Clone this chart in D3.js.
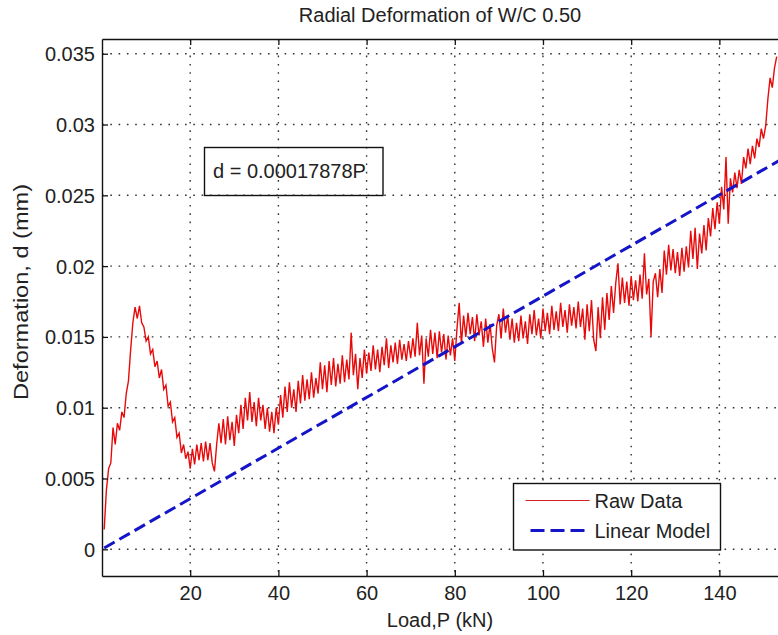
<!DOCTYPE html>
<html>
<head>
<meta charset="utf-8">
<script src="https://cdn.jsdelivr.net/npm/d3@7"></script>
<style>
  html, body { margin: 0; padding: 0; background: #fff; overflow: hidden; }
  svg { display: block; }
  text { font-family: "Liberation Sans", Arial, sans-serif; fill: #222; }
</style>
</head>
<body>
<svg class="chart"></svg>
<script>
// load (kN), sampled along the trace
var loads = [
  0.5,1,1.5,2,2.5,3,3.5,4,4.5,5,5.5,6,6.5,7,7.5,8,8.5,9,9.5,10,
  10.5,11,11.5,12,12.5,13,13.5,14,14.5,15,15.5,16,16.5,17,17.5,18,18.5,19,19.5,20,
  20.5,21,21.5,22,22.5,23,23.5,24,24.5,25,25.5,26,26.5,27,27.5,28,28.5,29,29.5,30,
  30.5,31,31.5,32,32.5,33,33.5,34,34.5,35,35.5,36,36.5,37,37.5,38,38.5,39,39.5,40,
  40.5,41,41.5,42,42.5,43,43.5,44,44.5,45,45.5,46,46.5,47,47.5,48,48.5,49,49.5,50,
  50.5,51,51.5,52,52.5,53,53.5,54,54.5,55,55.5,56,56.5,57,57.5,58,58.5,59,59.5,60,
  60.5,61,61.5,62,62.5,63,63.5,64,64.5,65,65.5,66,66.5,67,67.5,68,68.5,69,69.5,70,
  70.5,71,71.5,72,72.5,73,73.5,74,74.5,75,75.5,76,76.5,77,77.5,78,78.5,79,79.5,80,
  80.5,81,81.5,82,82.5,83,83.5,84,84.5,85,85.5,86,86.5,87,87.5,88,88.5,89,89.5,90,
  90.5,91,91.5,92,92.5,93,93.5,94,94.5,95,95.5,96,96.5,97,97.5,98,98.5,99,99.5,100,
  100.5,101,101.5,102,102.5,103,103.5,104,104.5,105,105.5,106,106.5,107,107.5,108,108.5,109,109.5,110,
  110.5,111,111.5,112,112.5,113,113.5,114,114.5,115,115.5,116,116.5,117,117.5,118,118.5,119,119.5,120,
  120.5,121,121.5,122,122.5,123,123.5,124,124.5,125,125.5,126,126.5,127,127.5,128,128.5,129,129.5,130,
  130.5,131,131.5,132,132.5,133,133.5,134,134.5,135,135.5,136,136.5,137,137.5,138,138.5,139,139.5,140,
  140.5,141,141.5,142,142.5,143,143.5,144,144.5,145,145.5,146,146.5,147,147.5,148,148.5,149,149.5,150,
  150.5,151,151.5,152,152.5,153
];
// raw deformation (mm)
var rawDeformation = [
  0.0014,0.0042,0.0057,0.0061,0.0086,0.0074,0.0089,0.0084,0.0097,0.0093,0.0110,0.0119,0.0141,0.0160,0.0171,0.0163,0.0172,0.0160,0.0157,0.0147,
  0.0150,0.0138,0.0141,0.0129,0.0133,0.0121,0.0127,0.0113,0.0116,0.0101,0.0104,0.0090,0.0093,0.0079,0.0082,0.0068,0.0074,0.0064,0.0069,0.0057,
  0.0071,0.0060,0.0074,0.0063,0.0075,0.0062,0.0076,0.0063,0.0075,0.0061,0.0055,0.0074,0.0089,0.0075,0.0092,0.0074,0.0094,0.0077,0.0090,0.0073,
  0.0095,0.0082,0.0102,0.0085,0.0107,0.0091,0.0111,0.0090,0.0104,0.0087,0.0107,0.0091,0.0102,0.0085,0.0100,0.0083,0.0097,0.0082,0.0100,0.0088,
  0.0109,0.0093,0.0115,0.0097,0.0118,0.0100,0.0113,0.0097,0.0119,0.0103,0.0123,0.0105,0.0120,0.0106,0.0125,0.0107,0.0121,0.0110,0.0132,0.0113,
  0.0130,0.0111,0.0133,0.0116,0.0135,0.0115,0.0131,0.0117,0.0137,0.0118,0.0134,0.0120,0.0153,0.0123,0.0138,0.0113,0.0135,0.0121,0.0141,0.0124,
  0.0139,0.0126,0.0144,0.0127,0.0141,0.0125,0.0143,0.0130,0.0149,0.0128,0.0144,0.0132,0.0146,0.0131,0.0148,0.0134,0.0145,0.0133,0.0147,0.0135,
  0.0149,0.0136,0.0160,0.0137,0.0151,0.0117,0.0149,0.0136,0.0155,0.0138,0.0153,0.0135,0.0154,0.0139,0.0152,0.0134,0.0151,0.0137,0.0149,0.0133,
  0.0156,0.0174,0.0145,0.0165,0.0150,0.0167,0.0152,0.0164,0.0147,0.0166,0.0151,0.0161,0.0143,0.0163,0.0146,0.0159,0.0142,0.0132,0.0158,0.0166,
  0.0149,0.0170,0.0153,0.0165,0.0148,0.0163,0.0146,0.0160,0.0147,0.0165,0.0149,0.0161,0.0145,0.0166,0.0152,0.0169,0.0151,0.0163,0.0149,0.0170,
  0.0154,0.0167,0.0152,0.0172,0.0155,0.0168,0.0154,0.0174,0.0157,0.0169,0.0153,0.0173,0.0158,0.0171,0.0156,0.0175,0.0157,0.0170,0.0148,0.0173,
  0.0154,0.0176,0.0148,0.0140,0.0171,0.0149,0.0178,0.0155,0.0181,0.0162,0.0186,0.0167,0.0188,0.0202,0.0173,0.0192,0.0174,0.0189,0.0172,0.0193,
  0.0176,0.0190,0.0175,0.0194,0.0177,0.0209,0.0180,0.0191,0.0150,0.0189,0.0195,0.0178,0.0198,0.0181,0.0211,0.0194,0.0215,0.0197,0.0212,0.0195,
  0.0210,0.0193,0.0213,0.0196,0.0214,0.0199,0.0225,0.0205,0.0227,0.0198,0.0223,0.0209,0.0229,0.0211,0.0234,0.0221,0.0241,0.0226,0.0245,0.0230,
  0.0256,0.0240,0.0277,0.0230,0.0262,0.0252,0.0266,0.0255,0.0268,0.0258,0.0277,0.0269,0.0283,0.0272,0.0285,0.0276,0.0290,0.0284,0.0297,0.0290,
  0.0299,0.0318,0.0333,0.0326,0.0340,0.0348
];
// linear model d = 0.00017878P
var modelSlope = 0.00017878;
var modelLoads = [0.5, 154];

var xTicks = [20, 40, 60, 80, 100, 120, 140];
var yTicks = [0, 0.005, 0.01, 0.015, 0.02, 0.025, 0.03, 0.035];
var yTickLabels = ["0", "0.005", "0.01", "0.015", "0.02", "0.025", "0.03", "0.035"];

// the axes box runs a little past the right edge of the picture
var margin = { top: 39, right: -4, bottom: 59, left: 102 },
    width = 778 - margin.left - margin.right,
    height = 635 - margin.top - margin.bottom;

var x = d3.scaleLinear().domain([0, 154.2]).range([0, width]);
var y = d3.scaleLinear().domain([-0.001886, 0.03604]).range([height, 0]);

var svg = d3.select(".chart")
    .attr("width", 778)
    .attr("height", 635);

var chart = svg.append("g")
    .attr("transform", "translate(" + margin.left + "," + margin.top + ")");

// dotted grid
var grid = chart.append("g")
    .attr("stroke", "#333")
    .attr("stroke-width", 1.4)
    .attr("stroke-dasharray", "1.6,6.7");
grid.selectAll(".gx").data(xTicks).enter().append("line")
    .attr("x1", function (d) { return x(d); })
    .attr("x2", function (d) { return x(d); })
    .attr("y1", 0).attr("y2", height);
grid.selectAll(".gy").data(yTicks).enter().append("line")
    .attr("x1", 0).attr("x2", width)
    .attr("y1", function (d) { return y(d); })
    .attr("y2", function (d) { return y(d); });

// raw data
var rawLine = d3.line()
    .x(function (d, i) { return x(loads[i]); })
    .y(function (d) { return y(d); });
chart.append("path")
    .datum(rawDeformation)
    .attr("fill", "none")
    .attr("stroke", "#e80a0a")
    .attr("stroke-width", 1.4)
    .attr("d", rawLine);

// linear model
var modelLine = d3.line()
    .x(function (d) { return x(d); })
    .y(function (d) { return y(modelSlope * d); });
chart.append("path")
    .datum(modelLoads)
    .attr("fill", "none")
    .attr("stroke", "#1414c8")
    .attr("stroke-width", 3)
    .attr("stroke-dasharray", "12,5.5")
    .attr("d", modelLine);

// axes
var xAxis = chart.append("g")
    .attr("transform", "translate(0," + height + ")")
    .call(d3.axisBottom(x).tickValues(xTicks).tickSizeInner(-6).tickSizeOuter(0).tickPadding(10));
var xAxisTop = chart.append("g")
    .call(d3.axisTop(x).tickValues(xTicks).tickSizeInner(-6).tickSizeOuter(0).tickFormat(""));
var yAxis = chart.append("g")
    .call(d3.axisLeft(y).tickValues(yTicks).tickSizeInner(-6).tickSizeOuter(0).tickPadding(13)
      .tickFormat(function (d, i) { return yTickLabels[i]; }));

[xAxis, xAxisTop, yAxis].forEach(function (a) {
  a.select(".domain").attr("stroke", "#111").attr("stroke-width", 1.4);
  a.selectAll(".tick line").attr("stroke", "#111").attr("stroke-width", 1.3);
  a.selectAll(".tick text").attr("fill", "#222")
    .style("font-family", "'Liberation Sans', Arial, sans-serif").style("font-size", "20px");
});
xAxis.selectAll(".tick text").attr("y", 24).attr("dy", null);
yAxis.selectAll(".tick text").attr("x", -7).attr("dy", "0.35em");

// title and labels
svg.append("text")
    .attr("x", 440).attr("y", 22)
    .attr("text-anchor", "middle")
    .style("font-size", "20px")
    .text("Radial Deformation of W/C 0.50");
svg.append("text")
    .attr("x", 440).attr("y", 627)
    .attr("text-anchor", "middle")
    .style("font-size", "20px")
    .text("Load,P (kN)");
svg.append("text")
    .attr("transform", "translate(28,292) rotate(-90)")
    .attr("text-anchor", "middle")
    .style("font-size", "20px")
    .attr("textLength", 216)
    .attr("lengthAdjust", "spacingAndGlyphs")
    .text("Deformation, d (mm)");

// equation box (no fill, grid shows through)
svg.append("rect")
    .attr("x", 204.5).attr("y", 147.5)
    .attr("width", 178.5).attr("height", 48)
    .attr("fill", "none")
    .attr("stroke", "#111")
    .attr("stroke-width", 1.4);
svg.append("text")
    .attr("x", 213).attr("y", 178)
    .style("font-size", "20px")
    .text("d = 0.00017878P");

// legend
var legend = svg.append("g").attr("transform", "translate(513.5,483.5)");
legend.append("rect")
    .attr("width", 207).attr("height", 66.5)
    .attr("fill", "#fff")
    .attr("stroke", "#111")
    .attr("stroke-width", 1.4);
legend.append("line")
    .attr("x1", 12).attr("x2", 76).attr("y1", 17).attr("y2", 17)
    .attr("stroke", "#d42020").attr("stroke-width", 1.2);
legend.append("line")
    .attr("x1", 17).attr("x2", 76).attr("y1", 47).attr("y2", 47)
    .attr("stroke", "#1414c8").attr("stroke-width", 3)
    .attr("stroke-dasharray", "14,6");
legend.append("text")
    .attr("x", 81).attr("y", 24)
    .style("font-size", "20px")
    .text("Raw Data");
legend.append("text")
    .attr("x", 81).attr("y", 54)
    .style("font-size", "20px")
    .text("Linear Model");
</script>
</body>
</html>
